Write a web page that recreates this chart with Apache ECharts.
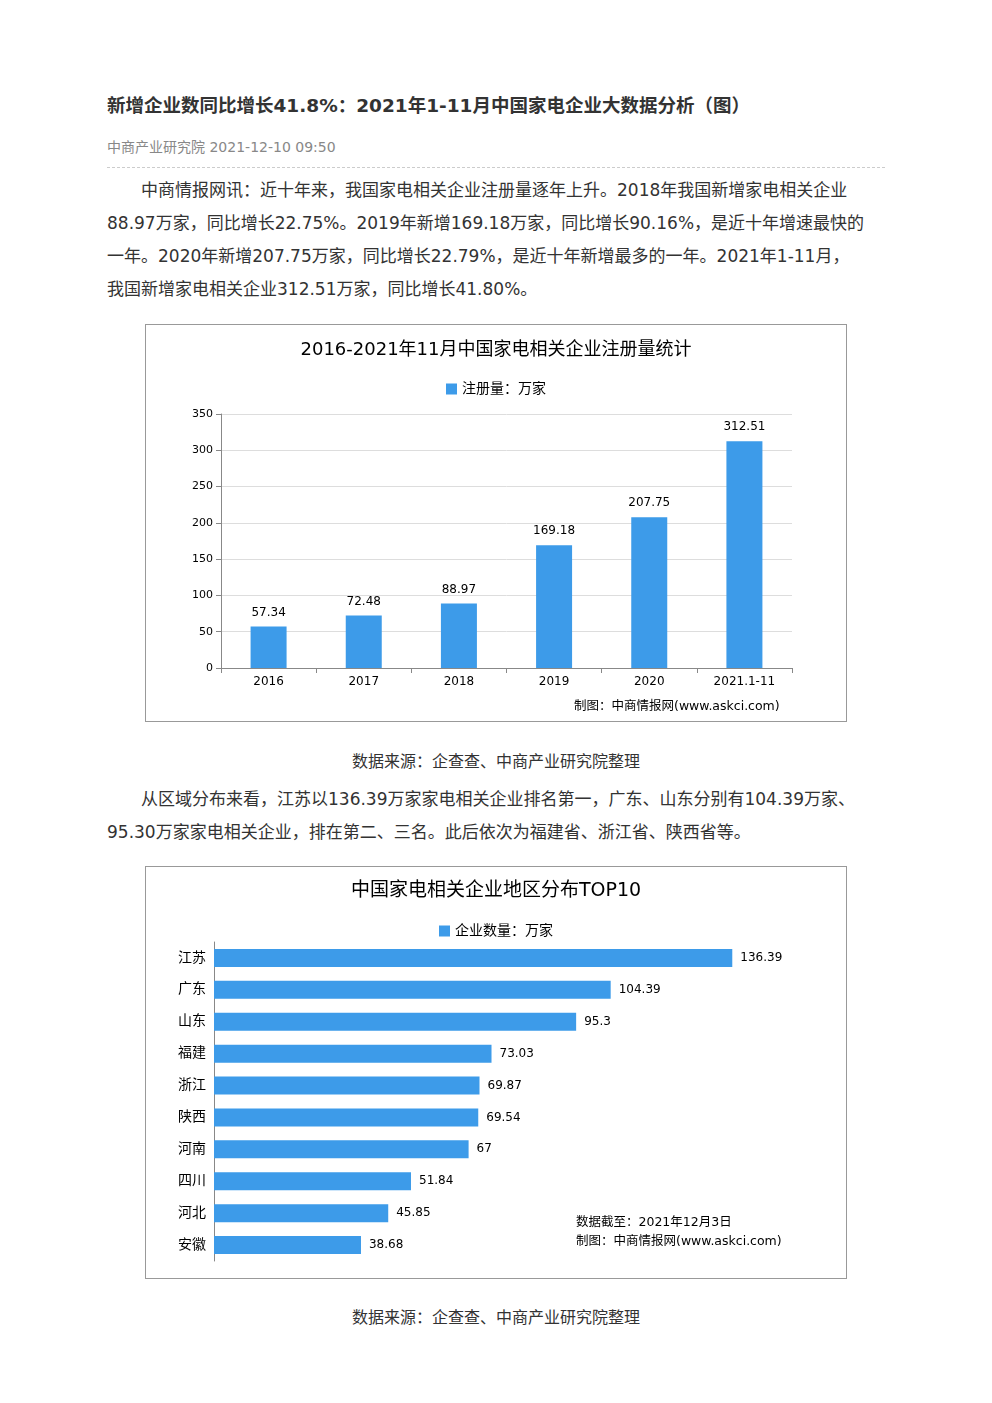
<!DOCTYPE html>
<html><head><meta charset="utf-8">
<script src="https://cdn.jsdelivr.net/npm/echarts@6/dist/echarts.min.js"></script>
<style>
body{margin:0;background:#fff;font-family:"DejaVu Sans","Noto Sans CJK SC",sans-serif;color:#333;}
.wrap{position:absolute;left:107px;width:778px;top:0;}
h1{position:absolute;top:91px;margin:0;font-size:18.5px;font-weight:bold;color:#333;white-space:nowrap;}
.meta{position:absolute;top:136px;font-size:14px;color:#888;}
.line{position:absolute;top:167px;width:778px;border-top:1px dashed #ccc;}
p{position:absolute;margin:0;font-size:17px;line-height:33px;width:790px;}
.l{display:block;white-space:nowrap;}
.i{padding-left:34px;}
.cap{position:absolute;width:778px;text-align:center;font-size:16px;}
.chart{position:absolute;left:145px;width:700px;border:1px solid #999;}
</style></head><body>
<div class="wrap">
<h1>新增企业数同比增长41.8%：2021年1-11月中国家电企业大数据分析（图）</h1>
<div class="meta">中商产业研究院 2021-12-10 09:50</div>
<div class="line"></div>
<p style="top:174px"><span class="l i">中商情报网讯：近十年来，我国家电相关企业注册量逐年上升。2018年我国新增家电相关企业</span><span class="l">88.97万家，同比增长22.75%。2019年新增169.18万家，同比增长90.16%，是近十年增速最快的</span><span class="l">一年。2020年新增207.75万家，同比增长22.79%，是近十年新增最多的一年。2021年1-11月，</span><span class="l">我国新增家电相关企业312.51万家，同比增长41.80%。</span></p>
<div class="cap" style="top:748px">数据来源：企查查、中商产业研究院整理</div>
<p style="top:783px"><span class="l i">从区域分布来看，江苏以136.39万家家电相关企业排名第一，广东、山东分别有104.39万家、</span><span class="l">95.30万家家电相关企业，排在第二、三名。此后依次为福建省、浙江省、陕西省等。</span></p>
<div class="cap" style="top:1304px">数据来源：企查查、中商产业研究院整理</div>
</div>
<div id="c1" class="chart" style="top:324px;height:396px"></div>
<div id="c2" class="chart" style="top:866px;height:411px"></div>
<script>
const years=['2016','2017','2018','2019','2020','2021.1-11'];
const regVals=[57.34,72.48,88.97,169.18,207.75,312.51];
const yTicks=[0,50,100,150,200,250,300,350];
const regions=['江苏','广东','山东','福建','浙江','陕西','河南','四川','河北','安徽'];
const regionVals=[136.39,104.39,95.3,73.03,69.87,69.54,67,51.84,45.85,38.68];
const F='"DejaVu Sans","Noto Sans CJK SC",sans-serif';
const blue='#3d9be9';
const c1=echarts.init(document.getElementById('c1'));
c1.setOption({animation:false,textStyle:{fontFamily:F},
title:{text:'2016-2021年11月中国家电相关企业注册量统计',left:'center',top:11,textStyle:{fontSize:18,fontWeight:'normal',color:'#000',fontFamily:F}},
legend:{top:52,left:'center',itemWidth:11,itemHeight:11,icon:'rect',textStyle:{fontSize:14,color:'#000'},data:['注册量：万家']},
graphic:[{type:'text',left:428,top:375,style:{text:'制图：中商情报网(www.askci.com)',fontSize:12.5,fill:'#000',fontFamily:F}}],
grid:{left:75,right:54,top:89,bottom:53},
xAxis:{type:'category',data:years,axisTick:{show:true},axisLine:{lineStyle:{color:'#888'}},axisLabel:{color:'#000',fontSize:12}},
yAxis:{type:'value',min:0,max:350,interval:50,axisLine:{show:true,lineStyle:{color:'#888'}},axisTick:{show:true},axisLabel:{color:'#000',fontSize:11},splitLine:{lineStyle:{color:'#ddd'}}},
series:[{name:'注册量：万家',type:'bar',barWidth:36,data:regVals,itemStyle:{color:blue},label:{show:true,position:'top',distance:8,color:'#000',fontSize:12}}]});
const c2=echarts.init(document.getElementById('c2'));
c2.setOption({animation:false,textStyle:{fontFamily:F},
title:{text:'中国家电相关企业地区分布TOP10',left:'center',top:10,textStyle:{fontSize:19,fontWeight:'normal',color:'#000',fontFamily:F}},
legend:{top:52,left:'center',itemWidth:11,itemHeight:11,icon:'rect',textStyle:{fontSize:14,color:'#000'},data:['企业数量：万家']},
graphic:[{type:'text',left:430,top:346,style:{text:'数据截至：2021年12月3日\n制图：中商情报网(www.askci.com)',fontSize:12.5,lineHeight:19,fill:'#000',fontFamily:F}}],
grid:{left:68,right:24,top:75,bottom:17},
xAxis:{type:'value',min:0,max:160,show:false},
yAxis:{type:'category',inverse:true,data:regions,axisTick:{show:false},axisLine:{lineStyle:{color:'#888'}},axisLabel:{color:'#000',fontSize:14}},
series:[{name:'企业数量：万家',type:'bar',barWidth:18,data:regionVals,itemStyle:{color:blue},label:{show:true,position:'right',distance:8,color:'#000',fontSize:12}}]});
</script></body></html>
